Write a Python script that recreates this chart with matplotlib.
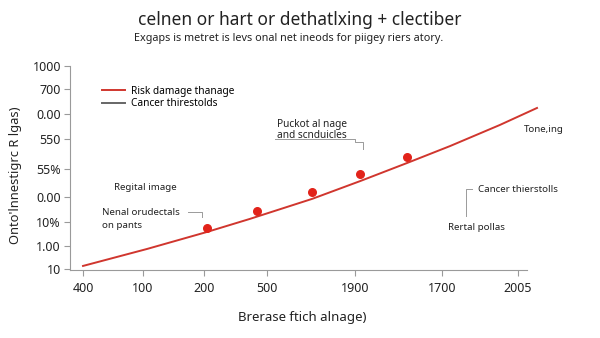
import matplotlib
matplotlib.use("Agg")
from matplotlib import pyplot as plt

plt.rcParams['font.family'] = ['Noto Sans', 'DejaVu Sans']

# tick labels and their positions along the axes
x_labels = ["400", "100", "200", "500", "1900", "1700", "2005"]
x_ticks = [0, 1, 2.02, 3.07, 4.53, 5.98, 7.25]
y_labels = ["10", "1.00", "10%", "0.00", "55%", "550", "0.00", "700", "1000"]
y_ticks = [0, 0.91, 1.85, 2.83, 3.94, 5.12, 6.1, 7.09, 7.99]

# curve
curve_x = [0.0, 1.07, 2.07, 2.78, 3.82, 4.62, 5.4, 6.12, 6.95, 7.57]
curve_y = [0.12, 0.79, 1.46, 1.97, 2.76, 3.46, 4.17, 4.84, 5.67, 6.34]

# red dots
dot_x = [2.07, 2.9, 3.82, 4.62, 5.4]
dot_y = [1.61, 2.28, 3.03, 3.74, 4.41]

RED = "#d0362e"
GRAY = "#9a9a9a"
TXT = "#222222"


def px(x, y):
    # pixel position -> figure fraction
    return x / 600, 1 - y / 338


def line(fig, xs, ys):
    fig.add_artist(plt.Line2D([x / 600 for x in xs], [1 - y / 338 for y in ys],
                              color=GRAY, lw=0.7))


def main():
    fig = plt.figure(figsize=(6, 3.38), dpi=100)
    ax = fig.add_axes([70 / 600, 68 / 338, 470 / 600, 208 / 338])
    ax.set_xlim(-0.217, 7.62)
    ax.set_ylim(-0.04, 8.15)

    ax.plot(curve_x, curve_y, color=RED, lw=1.4, label="Risk damage thanage")
    ax.plot([], [], color="#666666", lw=1.4, label="Cancer thirestolds")
    ax.scatter(dot_x, dot_y, s=30, color="#e2231a", zorder=3)

    ax.set_xticks(x_ticks)
    ax.set_xticklabels(x_labels)
    ax.set_yticks(y_ticks)
    ax.set_yticklabels(y_labels)
    ax.tick_params(colors=GRAY, labelcolor=TXT, labelsize=9, length=4, width=0.8)
    ax.tick_params(axis="x", pad=5)
    ax.tick_params(axis="y", pad=2.5)
    for s in ["top", "right"]:
        ax.spines[s].set_visible(False)
    for s in ["left", "bottom"]:
        ax.spines[s].set_color(GRAY)
        ax.spines[s].set_linewidth(0.8)
    ax.spines["left"].set_bounds(-0.04, 8.0)
    ax.spines["bottom"].set_bounds(-0.217, 7.4)

    ax.legend(loc="upper left", bbox_to_anchor=(0.06, 0.905), frameon=False,
              fontsize=7.3, handlelength=2.2, handletextpad=0.6,
              labelspacing=0.15, borderaxespad=0)

    fig.text(*px(300, 20), "celnen or hart or dethatlxing + clectiber",
             ha="center", va="center", fontsize=12.5, color=TXT)
    fig.text(*px(289, 38), "Exgaps is metret is levs onal net ineods for piigey riers atory.",
             ha="center", va="center", fontsize=7.8, color=TXT)
    fig.text(*px(302, 318), "Brerase ftich alnage)", ha="center", va="center",
             fontsize=9.5, color=TXT)
    fig.text(*px(16, 175), "Onto'lnnestigrc R lgas)", ha="center", va="center",
             rotation=90, fontsize=9.3, color=TXT)

    fig.text(*px(312, 130), "Puckot al nage\nand scnduicles", ha="center", va="center",
             fontsize=7.3, color=TXT, linespacing=1.05)
    line(fig, [275, 355, 355, 363, 363], [139, 139, 142, 142, 149])
    fig.text(*px(544, 129), "Tone,ing", ha="center", va="center", fontsize=7, color=TXT)
    fig.text(*px(518, 190), "Cancer thierstolls", ha="center", va="center", fontsize=7, color=TXT)
    line(fig, [472, 466, 466], [189, 189, 216])
    fig.text(*px(476, 227), "Rertal pollas", ha="center", va="center", fontsize=7, color=TXT)
    fig.text(*px(145, 187), "Regital image", ha="center", va="center", fontsize=7, color=TXT)
    fig.text(*px(102, 219), "Nenal orudectals\non pants", ha="left", va="center",
             fontsize=7, color=TXT, linespacing=1.5)
    line(fig, [188, 202, 202], [212, 212, 217])

    fig.savefig("out.png", dpi=100)


if __name__ == "__main__":
    main()
